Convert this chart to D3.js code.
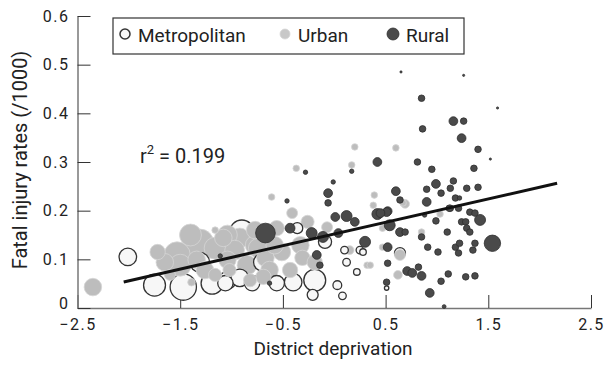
<!DOCTYPE html>
<html>
<head>
<meta charset="utf-8">
<script src="https://cdn.jsdelivr.net/npm/d3@7"></script>
<style>
  body { margin: 0; background: #fff; }
  text { font-family: Roboto, "Noto Sans", sans-serif; fill: #222; }
</style>
</head>
<body>
<div id="chart"></div>
<script>
// each district: [deprivation, fatal injury rate per 1000, population (100k)]
const metropolitan = [
  [-2.01, 0.105, 6.4], [-1.75, 0.047, 10], [-1.47, 0.043, 14.4], [-1.19, 0.051, 10],
  [-1.04, 0.057, 6.4], [-0.90, 0.156, 12.1], [-1.06, 0.051, 4.9], [-0.92, 0.062, 6.4],
  [-0.80, 0.051, 4.9], [-0.56, 0.051, 4.9], [-0.40, 0.053, 6.4], [-0.19, 0.057, 10],
  [-0.36, 0.164, 2.5], [-0.09, 0.136, 3.6], [-0.21, 0.027, 2.5], [0.03, 0.047, 1.6],
  [0.08, 0.025, 1.2], [0.10, 0.119, 1.2], [0.12, 0.094, 1.2], [0.22, 0.074, 0.9],
  [0.25, 0.119, 1.2], [0.64, 0.113, 2.5], [0.51, 0.041, 0.4], [0.28, 0.115, 0.9],
  [-1.31, 0.094, 8.1], [-0.70, 0.094, 6.4]
];

const urban = [
  [-2.35, 0.043, 6.4], [-1.72, 0.115, 4.9], [-1.53, 0.109, 14.4], [-1.50, 0.088, 10],
  [-1.31, 0.133, 16.9], [-1.08, 0.144, 6.4], [-1.34, 0.099, 6.4], [-1.39, 0.053, 1.2],
  [-1.16, 0.160, 0.9], [-0.92, 0.144, 8.1], [-1.04, 0.150, 8.1], [-1.04, 0.099, 6.4],
  [-0.85, 0.088, 8.1], [-0.67, 0.103, 6.4], [-0.51, 0.115, 6.4], [-0.31, 0.103, 4.9],
  [-0.43, 0.078, 4.9], [-0.69, 0.064, 4.9], [-0.56, 0.164, 4.9], [-0.41, 0.195, 2.5],
  [-0.61, 0.228, 0.9], [-0.26, 0.177, 3.6], [-0.07, 0.166, 2.5], [0.15, 0.119, 1.6],
  [0.32, 0.088, 0.9], [0.67, 0.216, 0.9], [0.38, 0.211, 0.9], [0.47, 0.164, 0.9],
  [0.85, 0.156, 0.9], [0.47, 0.125, 0.9], [0.64, 0.109, 2.5], [0.35, 0.088, 0.9],
  [0.62, 0.068, 1.6], [0.60, 0.329, 0.9], [0.69, 0.214, 1.6], [1.03, 0.193, 0.9],
  [0.39, 0.232, 0.9], [0.17, 0.294, 0.9], [-0.37, 0.287, 0.9], [0.20, 0.331, 0.9],
  [-1.16, 0.123, 10], [-1.26, 0.078, 6.4], [-0.77, 0.129, 8.1], [-1.02, 0.078, 3.6],
  [-1.60, 0.068, 2.5], [-0.77, 0.160, 6.4], [-1.40, 0.150, 10], [-0.97, 0.119, 8.1],
  [-0.74, 0.123, 8.1], [-0.58, 0.129, 6.4], [-0.33, 0.129, 6.4], [-0.19, 0.094, 4.9],
  [-0.63, 0.078, 6.4], [-1.65, 0.094, 6.4], [-0.82, 0.057, 3.6], [-1.16, 0.068, 3.6]
];

const rural = [
  [-1.11, 0.107, 0.4], [-0.67, 0.154, 8.1], [-0.43, 0.164, 2.0], [-0.22, 0.154, 2.5],
  [-0.11, 0.146, 2.5], [0.04, 0.154, 1.6], [0.01, 0.187, 1.6], [0.12, 0.189, 2.5],
  [0.20, 0.177, 1.6], [-0.06, 0.236, 1.6], [-0.06, 0.216, 0.9], [-0.01, 0.259, 0.4],
  [0.17, 0.281, 0.4], [-0.46, 0.220, 0.4], [-0.17, 0.109, 1.6], [-0.14, 0.088, 0.9],
  [-0.63, 0.051, 0.4], [0.42, 0.193, 2.5], [0.52, 0.199, 1.6], [0.90, 0.218, 1.6],
  [0.54, 0.170, 2.5], [0.30, 0.136, 2.5], [0.64, 0.156, 1.6], [0.69, 0.156, 0.9],
  [0.85, 0.146, 0.9], [0.99, 0.179, 0.9], [1.10, 0.156, 0.9], [1.13, 0.205, 0.9],
  [1.24, 0.177, 0.9], [1.28, 0.177, 0.9], [1.32, 0.197, 0.9], [1.37, 0.195, 0.9],
  [1.42, 0.181, 2.5], [1.29, 0.164, 0.9], [1.32, 0.156, 0.9], [1.54, 0.133, 5.6],
  [0.52, 0.125, 1.6], [0.91, 0.125, 0.9], [1.01, 0.115, 0.9], [1.18, 0.125, 0.9],
  [1.22, 0.133, 0.9], [1.21, 0.113, 0.9], [1.35, 0.119, 0.9], [1.37, 0.133, 0.9],
  [0.52, 0.092, 0.9], [0.71, 0.076, 1.6], [0.76, 0.072, 1.6], [0.82, 0.084, 0.9],
  [0.85, 0.066, 1.6], [1.11, 0.070, 0.9], [1.04, 0.055, 0.9], [1.28, 0.064, 0.9],
  [1.37, 0.066, 0.9], [0.93, 0.031, 1.6], [0.51, 0.053, 0.9], [0.65, 0.485, 0.1],
  [1.26, 0.478, 0.1], [0.85, 0.431, 0.9], [1.59, 0.411, 0.1], [1.16, 0.384, 1.6],
  [1.26, 0.384, 0.9], [0.86, 0.368, 0.9], [1.24, 0.349, 1.6], [1.40, 0.326, 0.9],
  [1.52, 0.306, 0.1], [0.42, 0.300, 1.6], [0.81, 0.300, 0.9], [0.95, 0.285, 0.9],
  [1.36, 0.287, 0.9], [0.60, 0.240, 1.6], [0.99, 0.255, 1.6], [1.16, 0.261, 0.9],
  [0.90, 0.244, 0.9], [1.13, 0.246, 0.9], [1.29, 0.246, 0.9], [1.40, 0.248, 0.9],
  [1.04, 0.236, 0.9], [0.64, 0.222, 0.9], [1.18, 0.226, 0.9], [1.22, 0.226, 0.4],
  [1.21, 0.205, 0.9], [1.12, 0.205, 0.9], [0.51, 0.197, 1.6], [0.45, 0.195, 1.6],
  [0.88, 0.191, 0.4], [-0.28, 0.279, 0.4], [1.07, 0.003, 0.3]
];

const categories = ['Metropolitan', 'Urban', 'Rural'];
const xTicks = [-2.5, -1.5, -0.5, 0.5, 1.5, 2.5];
const yTicks = [0, 0.1, 0.2, 0.3, 0.4, 0.5, 0.6];
const fitRange = [-2.05, 2.17];
const fitSlope = 0.048;
const fitIntercept = 0.152;
const rSquared = 0.199;

const width = 606, height = 367;

const x = d3.scaleLinear().domain([-2.5, 2.5]).range([77.5, 591]);
const y = d3.scaleLinear().domain([0, 0.6]).range([308, 16]);
const r = d3.scaleSqrt().domain([0, 20]).range([0, 15.5]);

const style = {
  Metropolitan: { fill: '#f7f7f7', stroke: '#333', sw: 1.3 },
  Urban: { fill: '#bdbdbd', stroke: '#d6d6d6', sw: 0.8 },
  Rural: { fill: '#4a4a4a', stroke: '#2e2e2e', sw: 0.8 }
};

const svg = d3.select('#chart').append('svg')
  .attr('width', width)
  .attr('height', height);

// axes
const xAxis = svg.append('g')
  .attr('transform', 'translate(0,308)')
  .call(d3.axisBottom(x).tickValues(xTicks).tickFormat(d3.format('.1f'))
    .tickSize(-13).tickSizeOuter(0).tickPadding(11));

const yAxis = svg.append('g')
  .attr('transform', 'translate(77.5,0)')
  .call(d3.axisLeft(y).tickValues(yTicks)
    .tickFormat(d => d === 0 ? '0' : d3.format('.1f')(d))
    .tickSize(-13).tickSizeOuter(0).tickPadding(8));

[xAxis, yAxis].forEach(g => {
  g.select('.domain').attr('stroke', '#777').attr('stroke-width', 1.5);
  g.selectAll('.tick line').attr('stroke', '#333').attr('stroke-width', 1);
  g.selectAll('.tick text')
    .style('font-family', 'Roboto, sans-serif')
    .style('font-size', '16px')
    .style('letter-spacing', '1.5px')
    .attr('fill', '#222');
});
// the zero label sits just above the x axis labels, as in the original
yAxis.selectAll('.tick text').filter(d => d === 0).attr('dy', '0.05em');

// bubbles: metropolitan and urban together (largest first), rural on top
const both = metropolitan.map(d => ({ d, cat: 'Metropolitan' }))
  .concat(urban.map(d => ({ d, cat: 'Urban' })))
  .sort((a, b) => b.d[2] - a.d[2]);
const rur = rural.map(d => ({ d, cat: 'Rural' })).sort((a, b) => b.d[2] - a.d[2]);

svg.append('g').selectAll('circle')
  .data(both.concat(rur))
  .join('circle')
  .attr('cx', p => x(p.d[0]))
  .attr('cy', p => y(p.d[1]))
  .attr('r', p => r(p.d[2]))
  .attr('fill', p => style[p.cat].fill)
  .attr('stroke', p => style[p.cat].stroke)
  .attr('stroke-width', p => style[p.cat].sw);

// regression line
const line = d3.line().x(d => x(d)).y(d => y(fitIntercept + fitSlope * d));
svg.append('path')
  .datum(fitRange)
  .attr('d', line)
  .attr('fill', 'none')
  .attr('stroke', '#111')
  .attr('stroke-width', 3);

// r squared
const rt = svg.append('text')
  .attr('x', 140).attr('y', 163)
  .style('font-size', '20px');
rt.append('tspan').text('r');
rt.append('tspan').attr('dy', -9).style('font-size', '13px').text('2');
rt.append('tspan').attr('dy', 9).text(' = ' + rSquared.toFixed(3));

// legend
const legend = svg.append('g');
legend.append('rect')
  .attr('x', 113).attr('y', 18)
  .attr('width', 351).attr('height', 36)
  .attr('fill', '#fff')
  .attr('stroke', '#333')
  .attr('stroke-width', 1.2);

const legendX = [125, 285, 393];
const legendR = [5, 5, 6];
categories.forEach((c, i) => {
  legend.append('circle')
    .attr('cx', legendX[i]).attr('cy', 34)
    .attr('r', legendR[i])
    .attr('fill', c === 'Urban' ? '#c8c8c8' : style[c].fill)
    .attr('stroke', c === 'Urban' ? '#d6d6d6' : style[c].stroke)
    .attr('stroke-width', c === 'Metropolitan' ? 1.5 : 0.8);
  legend.append('text')
    .attr('x', legendX[i] + 13).attr('y', 42)
    .style('font-size', '19px')
    .text(c);
});

// axis titles
svg.append('text')
  .attr('x', 333).attr('y', 355)
  .attr('text-anchor', 'middle')
  .style('font-size', '19px')
  .text('District deprivation');

svg.append('text')
  .attr('transform', 'translate(27,160) rotate(-90)')
  .attr('text-anchor', 'middle')
  .style('font-size', '20px')
  .text('Fatal injury rates (/1000)');
</script>
</body>
</html>
